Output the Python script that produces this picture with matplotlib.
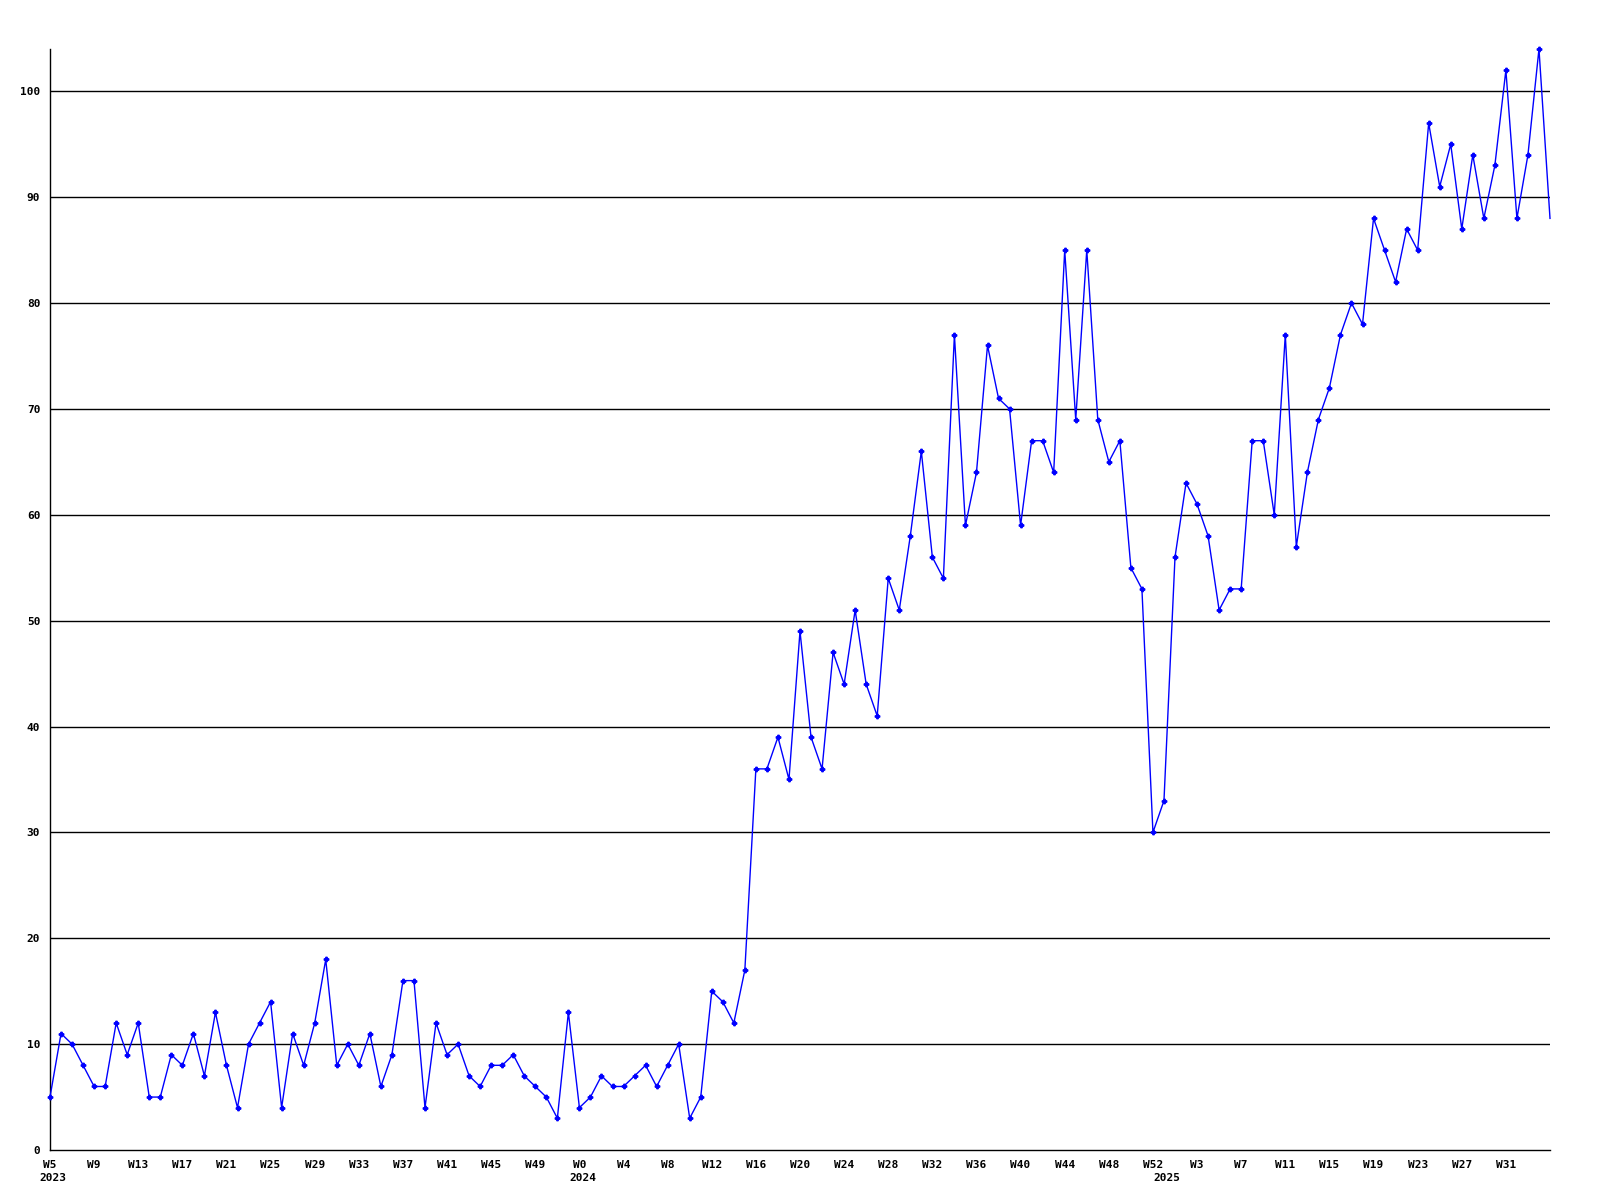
import matplotlib
matplotlib.use('Agg')
from matplotlib import pyplot as plt

# weekly counts, one list per year, first week number of each year
years = [2023, 2024, 2025]
first_week = [5, 0, 0]
values_2023 = [5, 11, 10, 8, 6, 6, 12, 9, 12, 5, 5, 9, 8, 11, 7, 13, 8, 4, 10, 12,
               14, 4, 11, 8, 12, 18, 8, 10, 8, 11, 6, 9, 16, 16, 4, 12, 9, 10, 7, 6,
               8, 8, 9, 7, 6, 5, 3, 13]
values_2024 = [4, 5, 7, 6, 6, 7, 8, 6, 8, 10, 3, 5, 15, 14, 12, 17, 36, 36, 39, 35,
               49, 39, 36, 47, 44, 51, 44, 41, 54, 51, 58, 66, 56, 54, 77, 59, 64, 76, 71, 70,
               59, 67, 67, 64, 85, 69, 85, 69, 65, 67, 55, 53, 30]
values_2025 = [33, 56, 63, 61, 58, 51, 53, 53, 67, 67, 60, 77, 57, 64, 69, 72, 77, 80, 78, 88,
               85, 82, 87, 85, 97, 91, 95, 87, 94, 88, 93, 102, 88, 94, 104, 88]
y_ticks = [0, 10, 20, 30, 40, 50, 60, 70, 80, 90, 100]


def main():
    per_year = [values_2023, values_2024, values_2025]
    values = []
    week_labels = []
    year_starts = []
    for year, start, vals in zip(years, first_week, per_year):
        year_starts.append(len(values))
        for i, v in enumerate(vals):
            values.append(v)
            week_labels.append(f'W{start + i}')
    xs = list(range(len(values)))

    font = dict(family='DejaVu Sans Mono', weight='bold', size=8)

    fig = plt.figure(figsize=(16, 12), dpi=100)
    ax = fig.add_axes([50 / 1600, 50 / 1200, 1500 / 1600, 1101 / 1200])

    for y in y_ticks[1:]:
        ax.axhline(y, color='black', linewidth=1, zorder=1)

    # last point sits on the right edge, drawn without a marker
    ax.plot(xs, values, color='#0000ff', linewidth=1, marker='P',
            markersize=3.2, markevery=list(range(len(xs) - 1)),
            zorder=3, clip_on=False)

    ax.set_xlim(0, len(values) - 1)
    ax.set_ylim(0, max(values))

    tick_pos = xs[:-1:4]
    ax.set_xticks(tick_pos)
    ax.set_xticklabels([week_labels[i] for i in tick_pos], fontdict=font)
    ax.set_yticks(y_ticks)
    ax.set_yticklabels([str(y) for y in y_ticks], fontdict=font)
    ax.tick_params(length=0, pad=7)

    for year, idx in zip(years, year_starts):
        ax.text(idx + 0.3, -2.15, str(year), ha='center', va='top', **font)

    for side in ['top', 'right']:
        ax.spines[side].set_visible(False)
    for side in ['left', 'bottom']:
        ax.spines[side].set_linewidth(1)
        ax.spines[side].set_color('black')

    fig.savefig('out.png')


if __name__ == '__main__':
    main()
